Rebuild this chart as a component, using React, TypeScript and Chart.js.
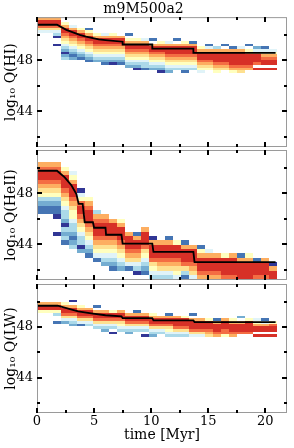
import React, { useEffect, useRef } from 'react';
import { Chart, registerables } from 'chart.js';

Chart.register(...registerables);

// ---------------- data ----------------
const chartTitle = 'm9M500a2';
const xAxisTitle = 'time [Myr]';

// time bins (Myr)
const timeBins = [0, 0.7, 1.4, 2.1, 2.8, 3.5, 4.2, 4.9, 5.6, 6.3, 7.0, 7.7, 8.4, 9.1, 9.8, 10.5,
  11.2, 11.9, 12.6, 13.3, 14.0, 14.7, 15.4, 16.1, 16.8, 17.5, 18.2, 18.9, 19.6, 20.3, 21.0];

const xMajorTicks = [0, 5, 10, 15, 20];
const xMinorTicks = [2.5, 7.5, 12.5, 17.5];
const yMajorTicks = [44, 48];
const yMinorTicks = [42, 46, 50];

// density level key -> colour (RdYlBu_r)
const levelColors: Record<string, string> = {
  D: '#313695', B: '#4575b4', b: '#74add1', c: '#abd9e9', p: '#e0f3f8',
  y: '#ffffbf', Y: '#fee090', o: '#fdae61', O: '#f46d43', R: '#d73027',
};

// ---- Q(HI) ----
const hiBinBase = 47.0;
const hiBinStep = 0.21;
const hiTopRow = [20, 20, 20, 18, 17, 16, 16, 14, 14, 14, 13, 14, 12, 12, 12, 11, 11, 12, 11, 11, 9, 10, 9, 10, 9, 9, 10, 9, 9, 8];
const hiColumns = ['oRROYp', 'oRROYp', 'oRROYpcD..D', 'yoRROoYypcbDbc', 'poRROoYypcbBb', 'yoRROoYypcbB',
  'ByoRROoYypcbB', 'yoRROoYypcb', 'poRROoYypcbB', 'yoRROoYypcbD', 'oRROoYypcbB', 'B.yoRROoYypcb',
  'yoRROoYypcbD', 'poRROoYypccB', 'B.oRROoYypcb', 'yoRROoYypcbD', 'poRRROoYypcb', 'B.oRRROoYypc',
  'yoRRROoYypcB', 'BoRRROoYypc', 'yoRRROoYyp', 'BpoRRROoYy', 'coRRRROoYy', 'B.oRRRROoY', 'BoRRRRROoy',
  'poRRRRROoY', 'B.yoRRRROo', 'bpoRRRO.R', 'BpyoORR.R', 'pyoORR.R'];
const hiLineT = [0, 1.75, 2.57, 3.74, 4.3, 5.4, 6.0, 7.5, 7.5, 10.1, 10.1, 13.7, 13.7, 20.9];
const hiLineQ = [50.8, 50.8, 50.4, 50.0, 49.86, 49.65, 49.6, 49.47, 49.25, 49.25, 48.93, 48.93, 48.59, 48.59];

// ---- Q(HeII) ----
const heiiBinBase = 41.24;
const heiiBinStep = 0.34;
const heiiTopRow = [26, 26, 26, 25, 24, 20, 18, 15, 14, 13, 13, 10, 10, 11, 9, 8, 9, 8, 8, 7, 7, 6, 5, 5, 5, 5, 5, 4, 4, 3];
const heiiColumns = ['oORROoYycbBB', 'oORROoYycbBB', 'oORROoYycbBBD...D', 'yoRRROoYypccbDcbcB',
  'pyoRRROoYyypccbBbc', 'DpyORROoYypccDb', 'yoORRROoYypcbB', 'coORRROoYypB', 'oORRROoYypcb',
  'oRRROoYypcbB', 'yoRRROoYypcb', 'oRRROoYpB', 'BoRROoYpcD', 'oRRROYypcbB', 'DoRRROYypc', 'oRRROoYpc',
  'BoRRROoYpc', 'yRRROoYyp', 'BoRRROYcB', 'oRRROoYp', 'ByoRRROo', 'poRRROo', 'oRRROo', 'yRRRRO',
  'oRRRRO', 'BoRRRR', 'yoRRRR', 'BRRRO', 'oRRRO', 'DoRR'];
const heiiLineT = [0, 1.75, 2.43, 3.0, 3.45, 3.65, 4.0, 4.18, 4.9, 5.0, 6.0, 6.05, 7.4, 7.5, 10.1, 10.2, 13.7, 13.8, 20.9];
const heiiLineQ = [49.77, 49.77, 49.25, 48.65, 47.95, 47.17, 47.17, 45.73, 45.73, 45.3, 45.3, 44.75, 44.75, 44.05, 44.05, 43.4, 43.4, 42.6, 42.6];

// ---- Q(LW) ----
const lwBinBase = 47.0;
const lwBinStep = 0.21;
const lwTopRow = [13, 13, 13, 13, 14, 12, 11, 12, 10, 10, 10, 9, 10, 9, 9, 8, 9, 8, 8, 9, 7, 7, 7, 7, 7, 8, 7, 7, 7, 6];
const lwColumns = ['oRRy', 'oRRy', 'oRRyc..B', 'yoRROYpb', 'D.oRROYpcb', 'yoRROYpB', 'oRROYpc', 'B.oRROYpc',
  'oRROYpcb', 'yRROYpc.D', 'oRROYypc', 'oRROYpcb', 'BoRROYpc', 'oRROYpc.D', 'yoRROYpcb', 'oRROYpc',
  'BoRROYypc', 'oRRROYpc', 'yRRROYpc', 'B.oRRROYp', 'oRRROYp', 'yRRROoY', 'BoRRROo', 'oRRROOy', 'yoRRROo',
  'b.oRRRO', 'yRRRRO', 'pyoRR.R', 'BpoRR.R', 'yORR.R'];
const lwLineT = [0, 1.8, 3.6, 4.9, 6.0, 7.4, 7.5, 10.1, 10.2, 13.7, 13.8, 20.9];
const lwLineQ = [49.68, 49.68, 49.24, 49.06, 48.93, 48.85, 48.7, 48.7, 48.52, 48.52, 48.39, 48.39];

// ---------------- layout / style ----------------
const FONT = "'DejaVu Serif', serif";
const FRAME = '#9a9a9a';
const X_MIN = 0, X_MAX = 21.9, Y_MIN = 41.2, Y_MAX = 51.4;

type Panel = {
  label: string; base: number; step: number; tops: number[]; cols: string[];
  lineT: number[]; lineQ: number[];
};

const panels: Panel[] = [
  { label: 'log₁₀ Q(HI)', base: hiBinBase, step: hiBinStep, tops: hiTopRow, cols: hiColumns, lineT: hiLineT, lineQ: hiLineQ },
  { label: 'log₁₀ Q(HeII)', base: heiiBinBase, step: heiiBinStep, tops: heiiTopRow, cols: heiiColumns, lineT: heiiLineT, lineQ: heiiLineQ },
  { label: 'log₁₀ Q(LW)', base: lwBinBase, step: lwBinStep, tops: lwTopRow, cols: lwColumns, lineT: lwLineT, lineQ: lwLineQ },
];

const boxes = [
  { top: 0, height: 147, pad: { left: 0, right: 7, top: 0, bottom: 0 } },
  { top: 147, height: 135, pad: { left: 0, right: 7, top: 3, bottom: 2 } },
  { top: 282, height: 166, pad: { left: 0, right: 7, top: 2, bottom: 0 } },
];

function makeConfig(p: Panel, idx: number): any {
  const isTop = idx === 0;
  const isBottom = idx === panels.length - 1;

  const heatPlugin = {
    id: 'heat' + idx,
    beforeDatasetsDraw(chart: any) {
      const { ctx, chartArea: a, scales: { x, y } } = chart;
      ctx.save();
      ctx.beginPath();
      ctx.rect(a.left, a.top, a.right - a.left, a.bottom - a.top);
      ctx.clip();
      p.cols.forEach((col, i) => {
        const x0 = Math.round(x.getPixelForValue(timeBins[i]));
        const x1 = Math.round(x.getPixelForValue(timeBins[i + 1]));
        for (let j = 0; j < col.length; j++) {
          const ch = col[j];
          if (ch === '.') continue;
          const row = p.tops[i] - j;
          const q0 = p.base + row * p.step;
          const y0 = Math.round(y.getPixelForValue(q0 + p.step));
          const y1 = Math.round(y.getPixelForValue(q0));
          ctx.fillStyle = levelColors[ch];
          ctx.fillRect(x0, y0, x1 - x0, y1 - y0);
        }
      });
      ctx.restore();
    },
  };

  const framePlugin = {
    id: 'frame' + idx,
    afterDatasetsDraw(chart: any) {
      const { ctx, chartArea: a, scales: { x, y } } = chart;
      ctx.save();
      ctx.strokeStyle = FRAME;
      ctx.lineWidth = 1;
      ctx.strokeRect(a.left + 0.5, a.top + 0.5, a.right - a.left - 1, a.bottom - a.top - 1);
      ctx.strokeStyle = '#000';
      ctx.lineWidth = 2;
      const xt: [number, number][] = [...xMajorTicks.map(v => [v, 5] as [number, number]), ...xMinorTicks.map(v => [v, 3] as [number, number])];
      for (const [v, len] of xt) {
        const px = Math.round(x.getPixelForValue(v));
        ctx.beginPath();
        ctx.moveTo(px, a.bottom); ctx.lineTo(px, a.bottom - len);
        ctx.moveTo(px, a.top); ctx.lineTo(px, a.top + len);
        ctx.stroke();
      }
      const yt: [number, number][] = [...yMajorTicks.map(v => [v, 5] as [number, number]), ...yMinorTicks.map(v => [v, 3] as [number, number])];
      for (const [v, len] of yt) {
        const py = Math.round(y.getPixelForValue(v));
        ctx.beginPath();
        ctx.moveTo(a.left, py); ctx.lineTo(a.left + len, py);
        ctx.moveTo(a.right, py); ctx.lineTo(a.right - len, py);
        ctx.stroke();
      }
      ctx.restore();
    },
  };

  return {
    type: 'scatter',
    data: {
      datasets: [{
        data: p.lineT.map((t, i) => ({ x: t, y: p.lineQ[i] })),
        showLine: true,
        borderColor: '#000',
        borderWidth: 1.8,
        pointRadius: 0,
        fill: false,
        tension: 0,
      }],
    },
    options: {
      animation: false,
      responsive: false,
      maintainAspectRatio: false,
      layout: { padding: boxes[idx].pad },
      plugins: {
        legend: { display: false },
        tooltip: { enabled: false },
        title: {
          display: isTop,
          text: chartTitle,
          color: '#000',
          font: { family: FONT, size: 14, weight: 'normal', lineHeight: 1.08 },
          padding: { top: 2, bottom: 0 },
        },
      },
      scales: {
        x: {
          type: 'linear',
          min: X_MIN, max: X_MAX,
          display: isBottom,
          grid: { display: false, drawTicks: false },
          border: { display: false },
          afterBuildTicks: (s: any) => { s.ticks = xMajorTicks.map(v => ({ value: v })); },
          ticks: { color: '#000', font: { family: FONT, size: 13 }, padding: 1, maxRotation: 0, autoSkip: false },
          title: { display: isBottom, text: xAxisTitle, color: '#000', font: { family: FONT, size: 14 }, padding: { top: 0, bottom: 4 } },
          afterFit: (s: any) => {
            if (isBottom) s.height = 35;
            s.paddingLeft = 0; s.paddingRight = 0; s.paddingTop = 0; s.paddingBottom = 0;
          },
        },
        y: {
          type: 'linear',
          min: Y_MIN, max: Y_MAX,
          grid: { display: false, drawTicks: false },
          border: { display: false },
          afterBuildTicks: (s: any) => { s.ticks = yMajorTicks.map(v => ({ value: v })); },
          ticks: { color: '#000', font: { family: FONT, size: 13 }, padding: 4, autoSkip: false },
          title: { display: true, text: p.label, color: '#000', font: { family: FONT, size: 14 }, padding: { top: 3, bottom: 0 } },
          afterFit: (s: any) => {
            s.width = 37;
            s.paddingLeft = 0; s.paddingRight = 0; s.paddingTop = 0; s.paddingBottom = 0;
          },
        },
      },
    },
    plugins: [heatPlugin, framePlugin],
  };
}

export default function App() {
  const refs = useRef<(HTMLCanvasElement | null)[]>([]);

  useEffect(() => {
    const charts = panels.map((p, i) => new Chart(refs.current[i] as HTMLCanvasElement, makeConfig(p, i)));
    return () => charts.forEach(c => c.destroy());
  }, []);

  return (
    <div style={{ position: 'fixed', left: 0, top: 0, width: 294, height: 448, background: '#fff' }}>
      {boxes.map((b, i) => (
        <canvas
          key={i}
          ref={el => { refs.current[i] = el; }}
          width={294}
          height={b.height}
          style={{ position: 'absolute', left: 0, top: b.top, width: 294, height: b.height }}
        />
      ))}
    </div>
  );
}
